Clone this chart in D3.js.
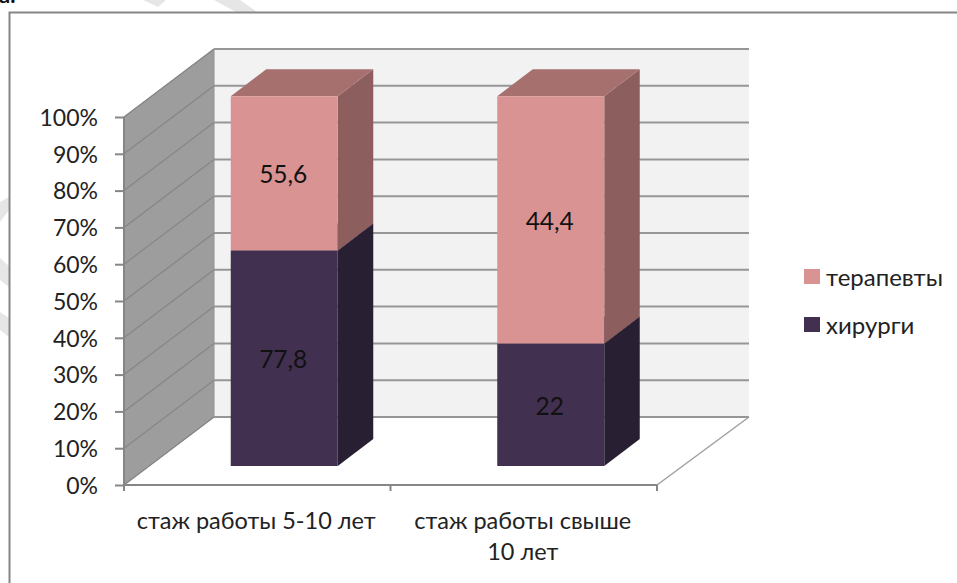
<!DOCTYPE html>
<html lang="ru">
<head>
<meta charset="utf-8">
<style>
  html, body { margin: 0; padding: 0; background: #fff; overflow: hidden; }
  svg { display: block; }
  text { font-family: Lato, "Open Sans", "Noto Sans", sans-serif; fill: #222; }
</style>
</head>
<body>
<svg id="chart" width="957" height="583"></svg>
<script src="https://cdn.jsdelivr.net/npm/d3@7"></script>
<script>
// Values
const categories = [["стаж работы 5-10 лет"], ["стаж работы свыше", "10 лет"]];
const seriesNames = ["хирурги", "терапевты"];
const surgeons = [77.8, 22];
const therapists = [55.6, 44.4];
const valueLabels = { "хирурги": ["77,8", "22"], "терапевты": ["55,6", "44,4"] };
const percentTicks = [0, .1, .2, .3, .4, .5, .6, .7, .8, .9, 1];

// Oblique projection of the 3D box
const front = { left: 124, right: 657, bottom: 485, top: 117 };
const depth = { x: 90, y: 68 };
const barOffsetX = 27;
const barDepth = { x: 35.5, y: 27 };
const barWidth = 107;

const colors = {
  "хирурги": { face: "#413050", side: "#281f33", top: "#32263f" },
  "терапевты": { face: "#d99392", side: "#8c5f5e", top: "#a6706f" }
};

const svg = d3.select("#chart");
const rows = categories.map((c, i) => ({ key: i, "хирурги": surgeons[i], "терапевты": therapists[i] }));
const stacked = d3.stack().keys(seriesNames).offset(d3.stackOffsetExpand)(rows);

const y = d3.scaleLinear().domain([0, 1]).range([front.bottom, front.top]);
const barY = d3.scaleLinear().domain([0, 1]).range([466, 96.3]);
const x = d3.scaleBand().domain(categories.map((c, i) => i)).range([front.left, front.right]);
const poly = pts => pts.map(p => p.join(",")).join(" ");

// Faint page marks around the frame and the clipped caption above it
const pageMarks = svg.append("g").attr("fill", "#e6e6e6");
[
  [[143, 0], [166, 0], [158, 7]],
  [[214, 0], [240, 0], [257, 12], [236, 12]],
  [[0, 202], [9, 197], [9, 210], [0, 222]],
  [[0, 258], [9, 266], [9, 287], [0, 280]],
  [[0, 312], [9, 318], [9, 337], [0, 330]]
].forEach(p => pageMarks.append("polygon").attr("points", poly(p)));
svg.append("text").attr("x", -1).attr("y", 3).attr("font-size", 22).attr("font-weight", 700).style("fill", "#111").text("а.");

// Chart frame, running past the window on the right and at the bottom
svg.append("rect").attr("x", 9.5).attr("y", 12.5).attr("width", 980).attr("height", 620)
  .attr("fill", "#fff").attr("stroke", "#868686").attr("stroke-width", 2);

// Back wall, side wall and floor
const backY = v => y(v) - depth.y;
svg.append("polygon").attr("fill", "#f2f2f2")
  .attr("points", poly([[front.left + depth.x, backY(1)], [front.right + depth.x + 2, backY(1)], [front.right + depth.x + 2, backY(0)], [front.left + depth.x, backY(0)]]));
svg.append("polygon").attr("fill", "#9d9d9d").attr("stroke", "#909090")
  .attr("points", poly([[front.left, y(0)], [front.left, y(1)], [front.left + depth.x, backY(1)], [front.left + depth.x, backY(0)]]));

// Gridlines across both walls
const grid = svg.append("g").selectAll("g").data(percentTicks).join("g");
grid.append("line")
  .attr("x1", front.left).attr("x2", front.left + depth.x)
  .attr("y1", d => y(d)).attr("y2", d => backY(d))
  .attr("stroke", "#868686").attr("stroke-width", 1.2);
grid.append("line")
  .attr("x1", front.left + depth.x).attr("x2", front.right + depth.x + 2)
  .attr("y1", d => backY(d)).attr("y2", d => backY(d))
  .attr("stroke", "#969696").attr("stroke-width", 2);

// Floor edges
svg.append("polyline").attr("fill", "none").attr("stroke", "#a0a0a0").attr("stroke-width", 1.5)
  .attr("points", poly([[front.right, y(0)], [front.right + depth.x + 2, backY(0)]]));

// Axes
const yAxis = d3.axisLeft(y).tickValues(percentTicks).tickFormat(d3.format(".0%")).tickSize(9).tickPadding(17);
const gy = svg.append("g").attr("transform", `translate(${front.left},0)`).call(yAxis);
gy.select(".domain").attr("stroke", "#868686").attr("stroke-width", 2).attr("d", `M0,${y(1)}V${y(0) + 6}`);
gy.selectAll(".tick line").attr("stroke", "#868686").attr("stroke-width", 2);
gy.selectAll("text").attr("font-size", 23).attr("font-family", null).attr("dy", "0.36em");

const xBase = svg.append("g");
xBase.append("line").attr("x1", front.left).attr("x2", front.right).attr("y1", y(0)).attr("y2", y(0))
  .attr("stroke", "#868686").attr("stroke-width", 2);
xBase.selectAll("line.tick").data(d3.range(categories.length + 1)).join("line").attr("class", "tick")
  .attr("x1", i => front.left + i * x.bandwidth()).attr("x2", i => front.left + i * x.bandwidth())
  .attr("y1", y(0)).attr("y2", y(0) + 6).attr("stroke", "#868686").attr("stroke-width", 2);

const xLabels = svg.append("g").selectAll("text").data(categories).join("text")
  .attr("text-anchor", "middle").attr("font-size", 23.5);
xLabels.each(function (lines, i) {
  d3.select(this).selectAll("tspan").data(lines).join("tspan")
    .attr("x", x(i) + x.bandwidth() / 2 - 1)
    .attr("y", (l, j) => 529 + j * 31)
    .text(l => l);
});

// Stacked 3D columns, lower segment first so the upper one sits on top of it
const barX = i => x(i) + x.bandwidth() / 2 + barOffsetX - barWidth / 2;

stacked.forEach(layer => {
  const c = colors[layer.key];
  layer.forEach((seg, i) => {
    const l = barX(i), r = l + barWidth;
    const t = barY(seg[1]), b = barY(seg[0]);
    const g = svg.append("g");
    g.append("polygon").attr("fill", c.side)
      .attr("points", poly([[r, t], [r + barDepth.x, t - barDepth.y], [r + barDepth.x, b - barDepth.y], [r, b]]));
    g.append("polygon").attr("fill", c.top)
      .attr("points", poly([[l, t], [l + barDepth.x, t - barDepth.y], [r + barDepth.x, t - barDepth.y], [r, t]]));
    g.append("rect").attr("x", l).attr("y", t).attr("width", barWidth).attr("height", b - t).attr("fill", c.face);
  });
});

// Value labels centred on each front face
stacked.forEach(layer => {
  layer.forEach((seg, i) => {
    svg.append("text")
      .attr("x", barX(i) + barWidth / 2 - 1)
      .attr("y", (barY(seg[0]) + barY(seg[1])) / 2 + 1)
      .attr("dy", "0.36em").attr("text-anchor", "middle").attr("font-size", 24.5)
      .style("fill", "#111").text(valueLabels[layer.key][i]);
  });
});

// Legend
const legendY = d3.scalePoint().domain(["терапевты", "хирурги"]).range([277, 325]);
const legend = svg.append("g").selectAll("g").data(legendY.domain()).join("g");
legend.append("rect").attr("x", 804).attr("y", d => legendY(d) - 8).attr("width", 16).attr("height", 15)
  .attr("fill", d => colors[d].face);
legend.append("text").attr("x", 826).attr("y", d => legendY(d)).attr("dy", "0.36em").attr("font-size", 24).text(d => d);
</script>
</body>
</html>
